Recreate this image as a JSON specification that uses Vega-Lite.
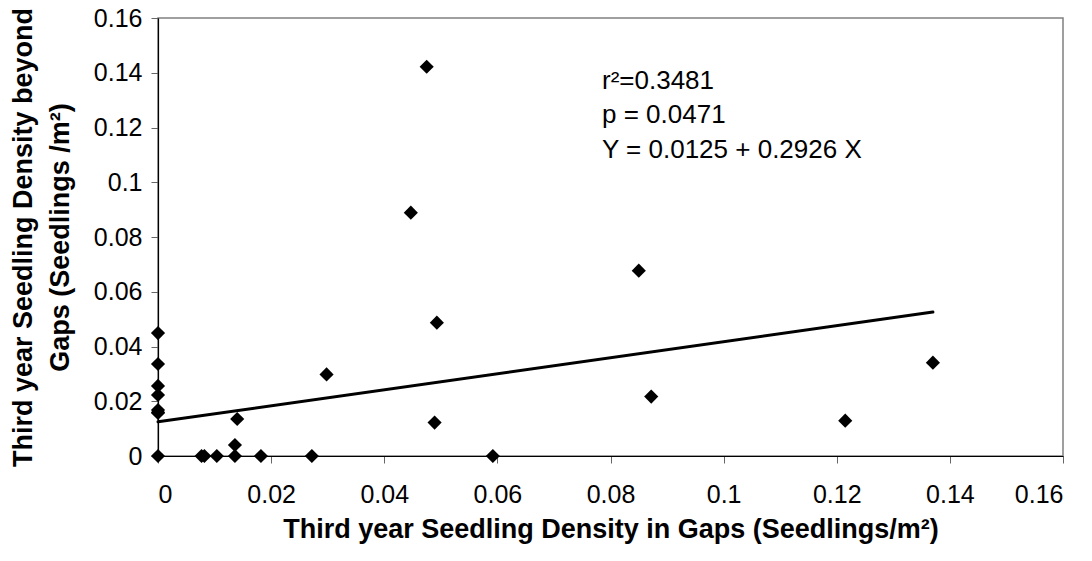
{
  "$schema": "https://vega.github.io/schema/vega-lite/v6.json",
  "width": 905,
  "height": 438,
  "autosize": {"type": "none"},
  "padding": {"left": 158, "top": 18, "right": 29, "bottom": 105},
  "background": "white",
  "config": {
    "font": "Liberation Sans",
    "view": {"stroke": "#808080", "strokeWidth": 1.5},
    "axis": {
      "grid": false,
      "domainColor": "#000000",
      "domainWidth": 1.2,
      "tickColor": "#666666",
      "tickSize": 7,
      "labelFont": "Liberation Sans",
      "labelFontSize": 25,
      "labelColor": "#000000",
      "titleFont": "Liberation Sans",
      "titleFontSize": 27,
      "titleFontWeight": "bold",
      "titleColor": "#000000"
    }
  },
  "datasets": {
    "points": [
      {"gap": 0, "beyond": 0},
      {"gap": 0, "beyond": 0.0449},
      {"gap": 0, "beyond": 0.0336},
      {"gap": 0, "beyond": 0.0256},
      {"gap": 0, "beyond": 0.0223},
      {"gap": 0, "beyond": 0.0168},
      {"gap": 0, "beyond": 0.016},
      {"gap": 0, "beyond": 0.0157},
      {"gap": 0.0077, "beyond": 0},
      {"gap": 0.0082, "beyond": 0},
      {"gap": 0.0104, "beyond": 0},
      {"gap": 0.0136, "beyond": 0},
      {"gap": 0.0136, "beyond": 0.004},
      {"gap": 0.014, "beyond": 0.0135},
      {"gap": 0.0182, "beyond": 0},
      {"gap": 0.0272, "beyond": 0},
      {"gap": 0.0298, "beyond": 0.0298},
      {"gap": 0.0447, "beyond": 0.0889},
      {"gap": 0.0475, "beyond": 0.1422},
      {"gap": 0.0489, "beyond": 0.0122},
      {"gap": 0.0493, "beyond": 0.0487},
      {"gap": 0.0592, "beyond": 0},
      {"gap": 0.085, "beyond": 0.0677},
      {"gap": 0.0872, "beyond": 0.0217},
      {"gap": 0.1215, "beyond": 0.0129},
      {"gap": 0.137, "beyond": 0.0341}
    ],
    "fit": [
      {"gap": 0, "beyond": 0.0125},
      {"gap": 0.137, "beyond": 0.0526}
    ],
    "notes": [
      {"gap": 0.0785, "beyond": 0.1341, "label": "r²=0.3481"},
      {"gap": 0.0785, "beyond": 0.1216, "label": "p = 0.0471"},
      {"gap": 0.0785, "beyond": 0.1089, "label": "Y = 0.0125 + 0.2926 X"}
    ]
  },
  "layer": [
    {
      "data": {"name": "fit"},
      "mark": {"type": "line", "color": "#000000", "strokeWidth": 3, "strokeCap": "round"},
      "encoding": {
        "x": {
          "field": "gap", "type": "quantitative",
          "scale": {"domain": [0, 0.16], "nice": false, "zero": false},
          "axis": {
            "values": [0, 0.02, 0.04, 0.06, 0.08, 0.1, 0.12, 0.14, 0.16],
            "format": "~g",
            "labelPadding": 19,
            "title": "Third year Seedling Density in Gaps (Seedlings/m²)",
            "titleBaseline": "alphabetic",
            "titleY": 81
          }
        },
        "y": {
          "field": "beyond", "type": "quantitative",
          "scale": {"domain": [0, 0.16], "nice": false, "zero": false},
          "axis": {
            "values": [0, 0.02, 0.04, 0.06, 0.08, 0.1, 0.12, 0.14, 0.16],
            "format": "~g",
            "labelPadding": 9,
            "title": ["Third year Seedling Density beyond", "Gaps (Seedlings /m²)"],
            "titleAngle": -90,
            "titleAlign": "center",
            "titleBaseline": "middle",
            "titleLineHeight": 37,
            "titleX": -135,
            "titleY": 219
          }
        }
      }
    },
    {
      "data": {"name": "points"},
      "mark": {"type": "point", "shape": "diamond", "filled": true, "color": "#000000", "opacity": 1, "size": 200},
      "encoding": {
        "x": {"field": "gap", "type": "quantitative"},
        "y": {"field": "beyond", "type": "quantitative"}
      }
    },
    {
      "data": {"name": "notes"},
      "mark": {"type": "text", "align": "left", "baseline": "alphabetic", "fontSize": 26, "font": "Liberation Sans", "color": "#000000"},
      "encoding": {
        "x": {"field": "gap", "type": "quantitative"},
        "y": {"field": "beyond", "type": "quantitative"},
        "text": {"field": "label"}
      }
    }
  ]
}
